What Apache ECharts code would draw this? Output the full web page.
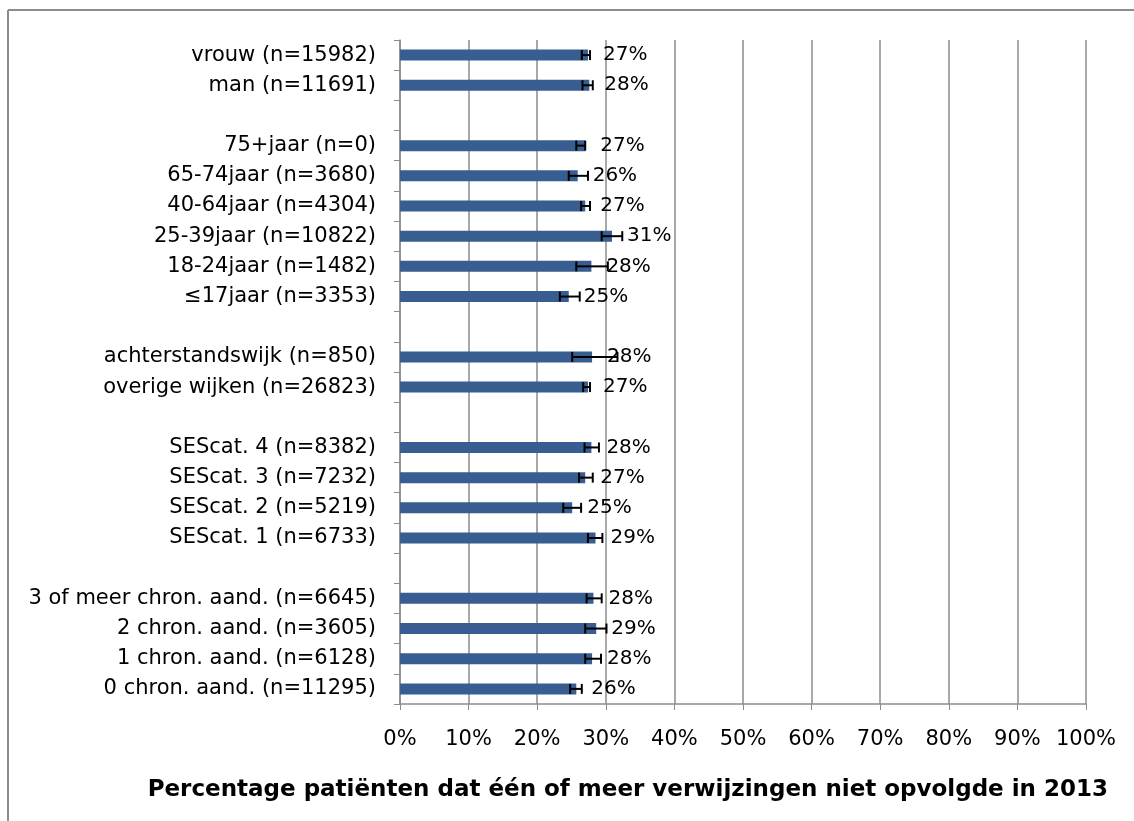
<!DOCTYPE html>
<html>
<head>
<meta charset="utf-8">
<script src="https://cdn.jsdelivr.net/npm/echarts@6/dist/echarts.min.js"></script>
<style>
  html, body { margin: 0; padding: 0; background: #fff; }
  #chart { width: 1134px; height: 821px; }
</style>
</head>
<body>
<div id="chart"></div>
<script>
// categories, top to bottom ('' = empty spacer row)
const categories = [
  'vrouw (n=15982)', 'man (n=11691)', '',
  '75+jaar (n=0)', '65-74jaar (n=3680)', '40-64jaar (n=4304)', '25-39jaar (n=10822)',
  '18-24jaar (n=1482)', '≤17jaar (n=3353)', '',
  'achterstandswijk (n=850)', 'overige wijken (n=26823)', '',
  'SEScat. 4 (n=8382)', 'SEScat. 3 (n=7232)', 'SEScat. 2 (n=5219)', 'SEScat. 1 (n=6733)', '',
  '3 of meer chron. aand. (n=6645)', '2 chron. aand. (n=3605)', '1 chron. aand. (n=6128)', '0 chron. aand. (n=11295)'
]
// percentage values
const values = [
  27.4, 27.6, null,
  27.0, 25.9, 27.0, 30.9, 27.9, 24.6, null,
  28.0, 27.4, null,
  27.9, 27.0, 25.1, 28.5, null,
  28.2, 28.6, 28.0, 25.7
]
// error bar bounds
const errLow = [
  26.5, 26.6, null,
  25.7, 24.6, 26.4, 29.4, 25.7, 23.3, null,
  25.1, 26.7, null,
  26.9, 26.1, 23.8, 27.4, null,
  27.2, 27.0, 27.0, 24.8
]
const errHigh = [
  27.7, 28.1, null,
  27.0, 27.4, 27.7, 32.4, 30.3, 26.2, null,
  31.7, 27.7, null,
  29.0, 28.1, 26.4, 29.5, null,
  29.4, 30.1, 29.3, 26.5
]
const xTicks = [0, 10, 20, 30, 40, 50, 60, 70, 80, 90, 100]
const axisTitle = 'Percentage patiënten dat één of meer verwijzingen niet opvolgde in 2013'

const font = '"DejaVu Sans", sans-serif'
const chart = echarts.init(document.getElementById('chart'))

const errData = []
categories.forEach((c, i) => {
  if (errLow[i] != null) errData.push([i, errLow[i], errHigh[i]])
})

chart.setOption({
  animation: false,
  textStyle: { fontFamily: font },
  grid: { left: 400, right: 48, top: 40, bottom: 117 },
  graphic: [
    { type: 'line', shape: { x1: 8, y1: 10, x2: 1134, y2: 10 }, style: { stroke: '#8c8c8c', lineWidth: 2 } },
    { type: 'line', shape: { x1: 8, y1: 10, x2: 8, y2: 821 }, style: { stroke: '#8c8c8c', lineWidth: 2 } },
    {
      type: 'text', x: 1108, y: 790,
      style: {
        text: axisTitle, align: 'right', verticalAlign: 'middle',
        font: 'bold 23px ' + font, fill: '#000'
      }
    }
  ],
  xAxis: {
    type: 'value',
    min: xTicks[0],
    max: xTicks[xTicks.length - 1],
    interval: 10,
    axisLine: { show: true, lineStyle: { color: '#8c8c8c', width: 1.5 } },
    axisTick: { show: true, length: 6, lineStyle: { color: '#8c8c8c' } },
    axisLabel: { formatter: '{value}%', color: '#000', fontSize: 21, margin: 25 },
    splitLine: { show: true, lineStyle: { color: '#8c8c8c', width: 1.5 } }
  },
  yAxis: {
    type: 'category',
    inverse: true,
    data: categories,
    axisLine: { show: true, lineStyle: { color: '#8c8c8c', width: 1.5 } },
    axisTick: { show: true, length: 6, lineStyle: { color: '#8c8c8c' } },
    axisLabel: { color: '#000', fontSize: 21, margin: 24, interval: 0 }
  },
  series: [
    {
      type: 'bar',
      data: values,
      barWidth: 11,
      itemStyle: { color: '#375D91' },
      label: {
        show: true,
        position: 'right',
        distance: 15,
        color: '#000',
        fontSize: 20,
        formatter: p => Math.round(p.value) + '%'
      },
      z: 2
    },
    {
      type: 'custom',
      data: errData,
      encode: { x: [1, 2], y: 0 },
      z: 3,
      renderItem: (params, api) => {
        const idx = api.value(0)
        const lo = api.coord([api.value(1), idx])
        const hi = api.coord([api.value(2), idx])
        const h = 5
        const st = { stroke: '#000', lineWidth: 2 }
        return {
          type: 'group',
          children: [
            { type: 'line', shape: { x1: lo[0], y1: lo[1], x2: hi[0], y2: hi[1] }, style: st },
            { type: 'line', shape: { x1: lo[0], y1: lo[1] - h, x2: lo[0], y2: lo[1] + h }, style: st },
            { type: 'line', shape: { x1: hi[0], y1: hi[1] - h, x2: hi[0], y2: hi[1] + h }, style: st }
          ]
        }
      }
    }
  ]
})
</script>
</body>
</html>
